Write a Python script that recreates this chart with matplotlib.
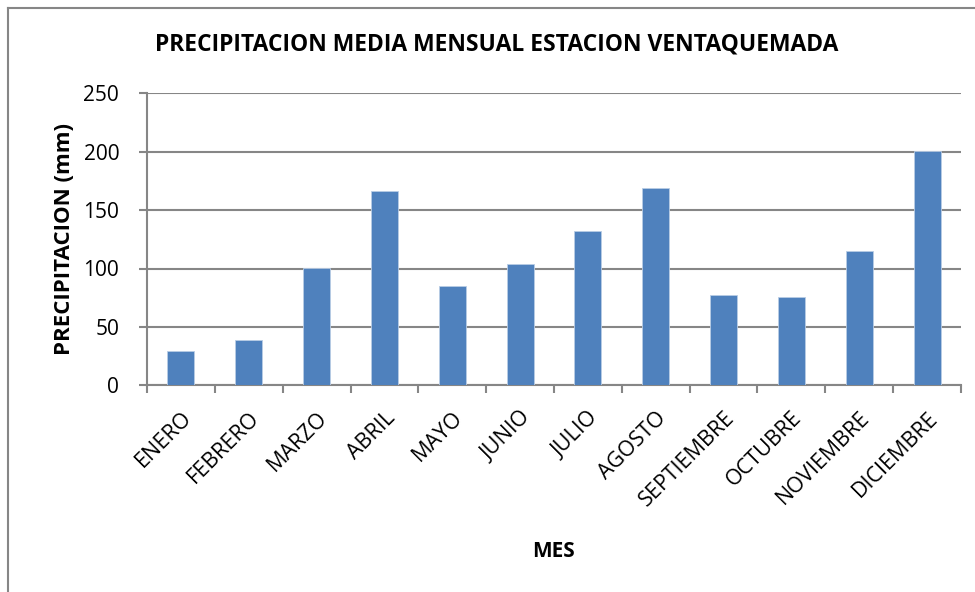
#!/usr/bin/env python3

# Monthly mean precipitation bar chart, station Ventaquemada.
import matplotlib
matplotlib.use('Agg')
import matplotlib.pyplot as plt
from matplotlib.lines import Line2D

meses = ['ENERO', 'FEBRERO', 'MARZO', 'ABRIL', 'MAYO', 'JUNIO', 'JULIO',
         'AGOSTO', 'SEPTIEMBRE', 'OCTUBRE', 'NOVIEMBRE', 'DICIEMBRE']
precipitacion = [29.7, 39.1, 100.2, 166.7, 85.3, 103.6, 131.8,
                 168.7, 77.1, 75.3, 114.7, 200.9]
y_ticks = [0, 50, 100, 150, 200, 250]

plt.rcParams['font.family'] = ['Open Sans', 'DejaVu Sans']
gris = '#868686'

fig = plt.figure(figsize=(9.75, 5.92), dpi=100)
ax = fig.add_axes([147 / 975, (592 - 385.3) / 592, 814 / 975, 292 / 592])

x = list(range(len(meses)))
ax.bar(x, precipitacion, width=0.40, color='#4F81BD', edgecolor='#B9CDE5',
       linewidth=0.6, zorder=3)

ax.set_xlim(-0.5, len(meses) - 0.5)
ax.set_ylim(0, 250)
ax.set_yticks(y_ticks)
ax.set_yticklabels([str(v) for v in y_ticks], fontsize=15)
ax.grid(True, axis='y', color=gris, linewidth=1.5, zorder=0)

ax.set_xticks(x)
ax.set_xticklabels(meses, rotation=45, ha='right', rotation_mode='anchor',
                   fontsize=15.5)
ax.set_xticks([i - 0.5 for i in range(len(meses) + 1)], minor=True)
ax.tick_params(axis='x', which='major', length=0, pad=16)
ax.tick_params(axis='x', which='minor', length=6, width=1.5, color=gris)
ax.tick_params(axis='y', length=6, width=1.5, color=gris, pad=14)

for s in ['top', 'right']:
    ax.spines[s].set_visible(False)
for s in ['left', 'bottom']:
    ax.spines[s].set_color(gris)
    ax.spines[s].set_linewidth(1.5)

ax.set_ylabel('PRECIPITACION (mm)', fontsize=16, fontweight='bold', labelpad=6)
ax.set_xlabel('MES', fontsize=15, fontweight='bold', labelpad=22)
fig.text(497 / 975, 1 - 45 / 592, 'PRECIPITACION MEDIA MENSUAL ESTACION VENTAQUEMADA',
         ha='center', va='center', fontsize=16.5, fontweight='bold')

# chart frame (cut at right and bottom in the reference)
fig.add_artist(Line2D([7.5 / 975, 7.5 / 975], [0, 1 - 7.5 / 592],
                      transform=fig.transFigure, color=gris, linewidth=1.5))
fig.add_artist(Line2D([7.5 / 975, 1], [1 - 7.5 / 592, 1 - 7.5 / 592],
                      transform=fig.transFigure, color=gris, linewidth=1.5))

fig.savefig('out.png', dpi=100)
